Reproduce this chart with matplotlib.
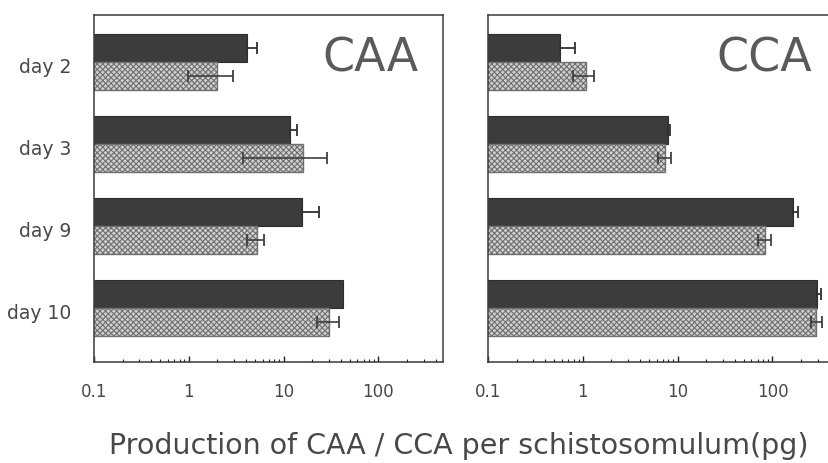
import numpy as np
import matplotlib
matplotlib.use("Agg")
import matplotlib.pyplot as plt
from matplotlib.ticker import FixedLocator, NullFormatter, LogLocator

days = ['day 2', 'day 3', 'day 9', 'day 10']
tick_vals = [0.1, 1, 10, 100]
tick_labels = ['0.1', '1', '10', '100']

caa_dark = [4.1, 11.7, 15.7, 42.6]
caa_dark_hi = [5.2, 13.9, 23.7, None]
caa_light = [1.97, 16.1, 5.2, 30.3]
caa_light_lo = [0.99, 3.7, 4.1, 22.6]
caa_light_hi = [2.9, 28.9, 6.2, 38.7]

cca_dark = [0.575, 7.96, 166, 298]
cca_dark_hi = [0.83, 8.35, 188, 329]
cca_light = [1.08, 7.4, 84, 291]
cca_light_lo = [0.79, 6.24, 71, 257]
cca_light_hi = [1.32, 8.55, 97, 336]

plt.rcParams['font.family'] = ['DejaVu Sans']
plt.rcParams['hatch.linewidth'] = 0.8

fig = plt.figure(figsize=(8.29, 4.63), dpi=100)
axL = fig.add_axes([0.1134, 0.2181, 0.421, 0.7495])
axR = fig.add_axes([0.5887, 0.2181, 0.421, 0.7495])

txt = '#484848'
h = 0.345
base = 0.001

def panel(ax, dark, dark_hi, light, light_lo, light_hi, title, show_days):
    n = len(dark)
    y = np.arange(n)
    yd = y - h / 2
    yl = y + h / 2
    dv = np.array(dark, float)
    lv = np.array(light, float)
    ax.barh(yd, dv - base, left=base, height=h, color='#3c3c3c',
            edgecolor='#2c2c2c', linewidth=0.8, zorder=2)
    ax.barh(yl, lv - base, left=base, height=h, color='#cfcfcf',
            edgecolor='#707070', linewidth=1.0, hatch='xxxxxx', zorder=2)
    for i in range(n):
        if dark_hi[i] is not None:
            ax.errorbar(dv[i], yd[i], xerr=[[0], [dark_hi[i] - dv[i]]],
                        fmt='none', ecolor='#303030', elinewidth=1.3,
                        capsize=4.5, capthick=1.3, zorder=3)
        ax.errorbar(lv[i], yl[i],
                    xerr=[[lv[i] - light_lo[i]], [light_hi[i] - lv[i]]],
                    fmt='none', ecolor='#404040', elinewidth=1.2,
                    capsize=4.5, capthick=1.3, zorder=3)
    ax.set_xscale('log')
    ax.set_xlim(0.1, 480)
    ax.set_ylim(3.659, -0.573)
    ax.xaxis.set_major_locator(FixedLocator(tick_vals))
    ax.set_xticklabels(tick_labels)
    ax.xaxis.set_minor_locator(LogLocator(base=10, subs=np.arange(2, 10)))
    ax.xaxis.set_minor_formatter(NullFormatter())
    ax.tick_params(axis='x', which='major', direction='in', length=4,
                   width=1.0, color='#222', labelsize=12, labelcolor=txt,
                   pad=15)
    ax.tick_params(axis='x', which='minor', direction='in', length=2.5,
                   width=0.8, color='#222')
    if show_days:
        ax.set_yticks(y + 0.04)
        ax.set_yticklabels(days)
        ax.tick_params(axis='y', length=0, labelsize=13.5, labelcolor=txt,
                       pad=16.5)
    else:
        ax.set_yticks([])
    for s in ax.spines.values():
        s.set_color('#3a3a3a')
        s.set_linewidth(1.1)
    ax.text(0.792, 0.836, title, transform=ax.transAxes, ha='center',
            va='baseline', fontsize=33, color='#5a5a5a')

panel(axL, caa_dark, caa_dark_hi, caa_light, caa_light_lo, caa_light_hi,
      'CAA', True)
panel(axR, cca_dark, cca_dark_hi, cca_light, cca_light_lo, cca_light_hi,
      'CCA', False)

fig.text(0.553, 0.0194, 'Production of CAA / CCA per schistosomulum(pg)',
         ha='center', va='baseline', fontsize=20.5, color=txt)

fig.savefig('out.png', dpi=100)
